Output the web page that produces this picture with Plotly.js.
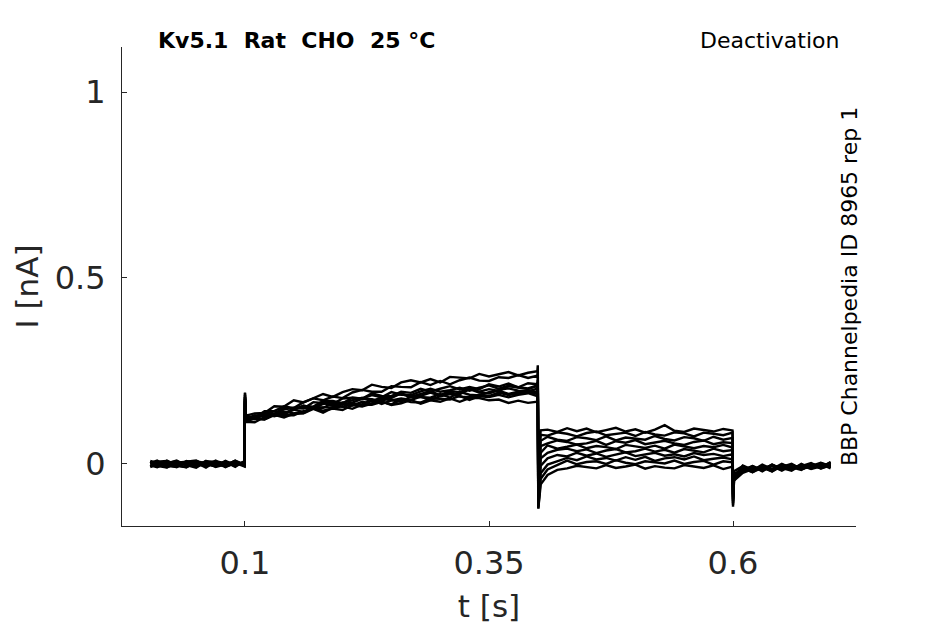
<!DOCTYPE html>
<html>
<head>
<meta charset="utf-8">
<script src="https://cdn.plot.ly/plotly-3.0.1.min.js"></script>
<style>
  html, body { margin: 0; padding: 0; background: #fff; }
  #chart { width: 945px; height: 624px; }
</style>
</head>
<body>
<div id="chart"></div>
<script>
// sample times [s], shared by every sweep
const timeS = [0.003, 0.01, 0.02, 0.03, 0.04, 0.05, 0.06, 0.07, 0.08, 0.09, 0.0995,
  0.1, 0.101,
  0.11, 0.12, 0.13, 0.14, 0.15, 0.16, 0.17, 0.18, 0.19, 0.2, 0.21, 0.22, 0.23, 0.24, 0.25,
  0.26, 0.27, 0.28, 0.29, 0.3, 0.31, 0.32, 0.33, 0.34, 0.35, 0.36, 0.37, 0.38, 0.39, 0.3995,
  0.4, 0.4005, 0.403,
  0.41, 0.42, 0.43, 0.44, 0.45, 0.46, 0.47, 0.48, 0.49, 0.5, 0.51, 0.52, 0.53, 0.54, 0.55,
  0.56, 0.57, 0.58, 0.59, 0.5995,
  0.6, 0.601,
  0.61, 0.62, 0.63, 0.64, 0.65, 0.66, 0.67, 0.68, 0.69, 0.7];

// current per sweep, in pA
const sweep1 = [6, -8, 9, -3, -9, 7, 2, -6, 8, -4, 5,
  190, 130,
  136, 137, 155, 154, 171, 165, 176, 188, 180, 193, 201, 198, 213, 207, 204, 219, 225, 219, 228, 219, 234, 233, 230, 242, 235, 241, 247, 238, 245, 249,
  265, 20, 90,
  92, 86, 96, 88, 95, 85, 91, 97, 87, 93, 84, 92, 104, 89, 86, 95, 91, 87, 94, 90,
  -60, -20,
  -6, -18, -2, -14, 0, -12, -6, 2, -10, 4];
const sweep2 = [-7, 5, -2, -9, 6, 9, -6, 3, -5, 8, -1,
  185, 125,
  124, 142, 142, 155, 150, 166, 176, 171, 181, 177, 192, 199, 194, 194, 209, 207, 206, 220, 212, 223, 214, 225, 232, 224, 223, 233, 231, 239, 231, 237,
  245, -20, 78,
  76, 85, 81, 74, 83, 87, 77, 80, 84, 75, 86, 79, 76, 85, 82, 74, 84, 81, 77, 84,
  -70, -25,
  -20, -6, -16, -2, -14, -4, -12, 0, -8, -2];
const sweep3 = [3, 9, -7, 4, -3, -10, 6, -1, -6, 5, -4,
  180, 120,
  131, 129, 130, 147, 151, 149, 166, 163, 161, 176, 178, 175, 190, 183, 182, 194, 191, 202, 194, 202, 209, 200, 207, 201, 214, 208, 216, 206, 217, 214,
  225, -50, 62,
  73, 65, 62, 72, 69, 64, 74, 63, 71, 68, 65, 75, 67, 63, 72, 69, 62, 73, 65, 70,
  -80, -30,
  -10, -22, -6, -18, -4, -16, 0, -12, 2, -8];
const sweep4 = [-9, -1, 5, -7, 8, 3, -10, 7, 2, -5, 6,
  175, 128,
  126, 138, 134, 152, 147, 156, 154, 169, 169, 163, 178, 176, 185, 179, 193, 186, 185, 195, 202, 194, 198, 205, 197, 205, 211, 202, 210, 206, 203, 211,
  220, -70, 48,
  55, 63, 59, 52, 55, 62, 51, 61, 57, 64, 53, 58, 62, 55, 51, 59, 63, 53, 58, 56,
  -85, -30,
  -22, -8, -18, -4, -16, -2, -14, -6, 0, -12];
const sweep5 = [7, -5, -10, 3, 6, -3, 5, -8, -1, 7, -6,
  170, 118,
  126, 129, 129, 131, 150, 151, 151, 165, 156, 164, 172, 178, 168, 179, 177, 190, 181, 188, 195, 185, 196, 193, 203, 194, 201, 196, 209, 205, 201, 209,
  215, -90, 30,
  50, 41, 46, 52, 42, 48, 45, 40, 51, 47, 43, 49, 41, 52, 46, 42, 48, 45, 51, 44,
  -90, -35,
  -4, -16, -10, -20, -2, -8, -16, 0, -10, 5];
const sweep6 = [-1, 6, 8, -5, -9, 4, -3, 9, -7, 1, 3,
  192, 125,
  120, 133, 141, 138, 145, 157, 149, 161, 167, 160, 165, 175, 174, 168, 182, 188, 179, 183, 192, 183, 192, 187, 201, 192, 189, 199, 203, 197, 195, 202,
  210, -100, 15,
  30, 38, 41, 34, 39, 29, 36, 40, 31, 34, 41, 33, 38, 30, 40, 36, 31, 41, 34, 37,
  -95, -35,
  -16, -6, -20, -4, -12, -18, -2, -12, -4, -8];
const sweep7 = [-4, -9, 2, 7, -2, -7, 8, -4, 5, -8, 8,
  165, 115,
  122, 119, 131, 140, 136, 137, 152, 152, 152, 165, 157, 167, 162, 175, 171, 167, 181, 180, 178, 188, 178, 194, 186, 184, 193, 197, 188, 194, 198, 193,
  205, -110, -5,
  15, 24, 20, 30, 22, 28, 19, 26, 31, 21, 25, 30, 22, 26, 20, 29, 24, 27, 21, 26,
  -100, -40,
  -8, -20, -4, -16, -8, 0, -14, -6, 3, -6];
const sweep8 = [8, 3, -6, -8, 5, 0, -6, 4, -9, 3, -7,
  180, 122,
  124, 135, 128, 135, 146, 139, 151, 151, 163, 153, 162, 160, 172, 161, 171, 176, 172, 181, 172, 182, 188, 181, 179, 186, 182, 192, 185, 190, 194, 188,
  200, -115, -25,
  -2, 8, 16, 10, 20, 12, 16, 9, 18, 11, 19, 8, 15, 18, 12, 20, 10, 14, 17, 12,
  -105, -40,
  -20, -10, -16, -2, -14, -10, -4, -14, -6, 0];
const sweep9 = [-6, 4, 1, 9, -5, 7, -1, -7, 6, -3, 4,
  170, 113,
  112, 126, 132, 125, 135, 136, 148, 138, 151, 155, 148, 159, 159, 167, 160, 173, 166, 165, 176, 175, 173, 183, 172, 182, 180, 186, 179, 186, 190, 182,
  195, -120, -40,
  -15, -3, 9, -1, 5, 7, 0, 10, 3, -1, 7, 4, 1, 9, 0, 5, 8, -2, 7, 4,
  -110, -45,
  -12, -22, -10, -6, -18, -4, -10, 0, -12, -2];
const sweep10 = [2, -3, -9, 5, 3, -6, 7, 5, -4, 9, -5,
  175, 118,
  122, 120, 134, 131, 131, 142, 149, 143, 149, 145, 158, 154, 162, 168, 158, 163, 172, 162, 171, 167, 176, 167, 177, 177, 171, 173, 164, 170, 164, 167,
  175, -120, -55,
  -30, -16, -12, -5, -9, -12, -3, -11, -7, -2, -13, -6, -10, -12, -3, -8, -11, -4, -14, -7,
  -115, -45,
  -24, -14, -8, -20, -6, -14, -8, -2, -12, -4];

const sweeps = [sweep1, sweep2, sweep3, sweep4, sweep5, sweep6, sweep7, sweep8, sweep9, sweep10];

const xTicks = [0.1, 0.35, 0.6];
const xTickText = ['0.1', '0.35', '0.6'];
const yTicks = [0, 0.5, 1];
const yTickText = ['0', '0.5', '1'];

const font = 'DejaVu Sans, sans-serif';
const axisColor = '#262626';

const traces = sweeps.map(s => ({
  x: timeS,
  y: s.map(v => v / 1000),
  type: 'scatter',
  mode: 'lines',
  line: { color: '#000', width: 2.4 },
  hoverinfo: 'skip'
}));

const layout = {
  width: 945,
  height: 624,
  margin: { l: 122, r: 89, t: 47, b: 98 },
  paper_bgcolor: '#fff',
  plot_bgcolor: '#fff',
  showlegend: false,
  font: { family: font, color: axisColor },
  xaxis: {
    range: [-0.026, 0.726],
    tickvals: xTicks,
    ticktext: xTickText,
    ticks: 'inside',
    ticklen: 5,
    tickcolor: axisColor,
    tickfont: { size: 32, color: axisColor },
    ticklabelstandoff: 9,
    showgrid: false,
    zeroline: false,
    showline: true,
    linecolor: axisColor,
    linewidth: 1,
    title: { text: 't [s]', font: { size: 31, color: axisColor }, standoff: 14 },
    fixedrange: true
  },
  yaxis: {
    range: [-0.167, 1.121],
    tickvals: yTicks,
    ticktext: yTickText,
    ticks: 'inside',
    ticklen: 5,
    tickcolor: axisColor,
    tickfont: { size: 32, color: axisColor },
    ticklabelstandoff: 9,
    showgrid: false,
    zeroline: false,
    showline: true,
    linecolor: axisColor,
    linewidth: 1,
    title: { text: 'I [nA]', font: { size: 31, color: axisColor }, standoff: 6 },
    fixedrange: true
  },
  annotations: [
    {
      text: '<b>Kv5.1\u00a0\u00a0Rat\u00a0\u00a0CHO\u00a0\u00a025 \u00b0C</b>',
      xref: 'paper', yref: 'paper', x: 0.047, y: 1.0146,
      xanchor: 'left', yanchor: 'middle', showarrow: false,
      font: { size: 22, color: '#000' }
    },
    {
      text: 'Deactivation',
      xref: 'paper', yref: 'paper', x: 0.98, y: 1.0146,
      xanchor: 'right', yanchor: 'middle', showarrow: false,
      font: { size: 22, color: '#000' }
    },
    {
      text: 'BBP Channelpedia ID 8965 rep 1',
      xref: 'paper', yref: 'paper', x: 0.992, y: 0.499,
      xanchor: 'center', yanchor: 'middle', showarrow: false, textangle: -90,
      font: { size: 22, color: '#000' }
    }
  ]
};

Plotly.newPlot('chart', traces, layout, { displayModeBar: false, staticPlot: true });
</script>
</body>
</html>
